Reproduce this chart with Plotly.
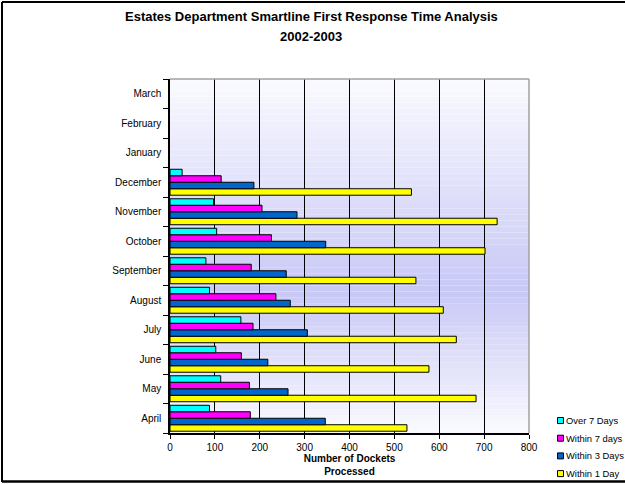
import plotly.graph_objects as go

months = ["April", "May", "June", "July", "August", "September", "October",
          "November", "December", "January", "February", "March"]
over_7_days = [88, 113, 102, 158, 88, 80, 104, 97, 27, None, None, None]
within_7_days = [179, 177, 159, 185, 236, 181, 226, 205, 114, None, None, None]
within_3_days = [346, 263, 218, 306, 268, 259, 347, 283, 187, None, None, None]
within_1_day = [528, 682, 577, 638, 609, 548, 702, 729, 538, None, None, None]
x_ticks = [0, 100, 200, 300, 400, 500, 600, 700, 800]
legend_names = ["Over 7 Days", "Within 7 days", "Within 3 Days", "Within 1 Day"]
colors = {"Over 7 Days": "#00FFFF", "Within 7 days": "#FF00FF",
          "Within 3 Days": "#0066CC", "Within 1 Day": "#FFFF00"}

W, H = 625, 484
ML, MR, MT, MB = 170, 96, 79, 51
PW, PH = W - ML - MR, H - MT - MB

font = "Liberation Sans, Arial, sans-serif"
fig = go.Figure()
series = [
    ("Within 1 Day", within_1_day),
    ("Within 3 Days", within_3_days),
    ("Within 7 days", within_7_days),
    ("Over 7 Days", over_7_days),
]
for name, vals in series:
    fig.add_trace(go.Bar(
        y=months, x=vals, name=name, orientation="h", showlegend=False,
        marker=dict(color=colors[name], line=dict(color="#000000", width=1)),
    ))


def px2x(px):
    return (px - ML) / PW


def py2y(py):
    return (H - MB - py) / PH


# vertical gradient background of plot area
shapes = []
N = 60
top = (250, 250, 255)
mid = (200, 200, 246)
bot = (250, 250, 255)
mid_pos = 0.40  # fraction from bottom
for i in range(N):
    y0 = i / N
    y1 = (i + 1) / N
    yc = (y0 + y1) / 2
    if yc < mid_pos:
        t = yc / mid_pos
        c = [bot[k] + (mid[k] - bot[k]) * t for k in range(3)]
    else:
        t = (yc - mid_pos) / (1 - mid_pos)
        c = [mid[k] + (top[k] - mid[k]) * t for k in range(3)]
    shapes.append(dict(type="rect", xref="x domain", yref="y domain",
                       x0=0, x1=1, y0=y0, y1=y1, layer="below",
                       line=dict(width=0),
                       fillcolor="rgb(%d,%d,%d)" % tuple(int(round(v)) for v in c)))
# plot frame (top/right gray)
shapes.append(dict(type="line", xref="x domain", yref="y domain", x0=0, x1=1, y0=1, y1=1,
                   line=dict(color="#A0A0A0", width=1.5)))
shapes.append(dict(type="line", xref="x domain", yref="y domain", x0=1, x1=1, y0=0, y1=1,
                   line=dict(color="#A0A0A0", width=1.5)))
# outer border of image
shapes.append(dict(type="line", xref="paper", yref="paper",
                   x0=px2x(2), x1=px2x(2), y0=py2y(2), y1=py2y(482),
                   line=dict(color="#000000", width=2)))
shapes.append(dict(type="line", xref="paper", yref="paper",
                   x0=px2x(2), x1=px2x(640), y0=py2y(2), y1=py2y(2),
                   line=dict(color="#000000", width=2)))
shapes.append(dict(type="line", xref="paper", yref="paper",
                   x0=px2x(2), x1=px2x(640), y0=py2y(481.5), y1=py2y(481.5),
                   line=dict(color="#000000", width=2.5)))

# legend (swatches + text)
annotations = []
leg_top, leg_step = 420.5, 17.7
for i, name in enumerate(legend_names):
    yc = leg_top + i * leg_step
    shapes.append(dict(type="rect", xref="paper", yref="paper",
                       x0=px2x(557.5), x1=px2x(563.5), y0=py2y(yc - 3), y1=py2y(yc + 3),
                       fillcolor=colors[name], line=dict(color="#000000", width=1)))
    annotations.append(dict(text=name, xref="paper", yref="paper",
                            x=px2x(564), y=py2y(yc), xanchor="left", yanchor="middle",
                            showarrow=False, font=dict(family=font, size=9.4, color="#000000")))

# title
annotations.append(dict(text="<b>Estates Department Smartline First Response Time Analysis</b>",
                        xref="paper", yref="paper", x=px2x(311), y=py2y(17),
                        xanchor="center", yanchor="middle", showarrow=False,
                        font=dict(family=font, size=13, color="#000000")))
annotations.append(dict(text="<b>2002-2003</b>",
                        xref="paper", yref="paper", x=px2x(311), y=py2y(36.5),
                        xanchor="center", yanchor="middle", showarrow=False,
                        font=dict(family=font, size=13, color="#000000")))

fig.update_layout(
    width=W, height=H,
    margin=dict(l=ML, r=MR, t=MT, b=MB, autoexpand=False),
    paper_bgcolor="#FFFFFF",
    plot_bgcolor="rgba(0,0,0,0)",
    font=dict(family=font, size=10, color="#000000"),
    barmode="group", bargap=0.12, bargroupgap=0.0,
    showlegend=False,
    shapes=shapes,
    annotations=annotations,
)
fig.update_xaxes(range=[0, 800], tickvals=x_ticks, ticktext=[str(v) for v in x_ticks],
                 showgrid=True, gridcolor="#000000", gridwidth=1,
                 showline=True, linecolor="#000000", linewidth=1.5,
                 ticks="outside", ticklen=4, tickcolor="#000000",
                 zeroline=False, tickfont=dict(size=10),
                 title=dict(text="<b>Number of Dockets<br>Processed</b>", standoff=0,
                            font=dict(size=10)),
                 fixedrange=True)
fig.update_yaxes(categoryorder="array", categoryarray=months, type="category",
                 range=[-0.5, 11.5],
                 showline=True, linecolor="#000000", linewidth=1.5,
                 ticks="outside", ticklen=5, tickcolor="#000000", tickson="boundaries",
                 showgrid=False, tickfont=dict(size=10), ticklabelstandoff=5,
                 fixedrange=True)

fig.write_html("out.html")
